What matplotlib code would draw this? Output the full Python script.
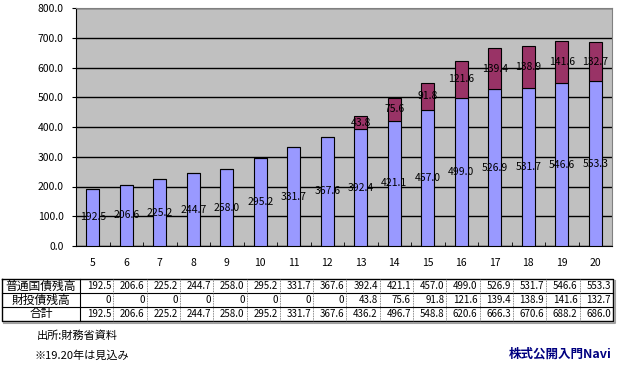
import matplotlib
matplotlib.use("Agg")
import matplotlib.pyplot as plt
from matplotlib.ticker import FormatStrFormatter, MultipleLocator
import numpy as np

plt.rcParams['font.family'] = ['Noto Sans CJK JP', 'DejaVu Sans']

# data (単位: 兆円)
years = ["5", "6", "7", "8", "9", "10", "11", "12", "13", "14", "15", "16", "17", "18", "19", "20"]
futsu = [192.5, 206.6, 225.2, 244.7, 258.0, 295.2, 331.7, 367.6, 392.4, 421.1, 457.0, 499.0, 526.9, 531.7, 546.6, 553.3]
zaito = [0, 0, 0, 0, 0, 0, 0, 0, 43.8, 75.6, 91.8, 121.6, 139.4, 138.9, 141.6, 132.7]
total = [192.5, 206.6, 225.2, 244.7, 258.0, 295.2, 331.7, 367.6, 436.2, 496.7, 548.8, 620.6, 666.3, 670.6, 688.2, 686.0]
row_names = ["普通国債残高", "財投債残高", "合計"]

fig = plt.figure(figsize=(6.18, 3.65), dpi=100)
W, H = 618, 365
ax = fig.add_axes([76 / W, 1 - 246 / H, 536 / W, 238 / H])
ax.set_facecolor("#c0c0c0")

x = np.arange(len(years))
b1 = ax.bar(x, futsu, width=0.39, color="#9999ff", edgecolor="black", linewidth=0.8, zorder=3)
b2 = ax.bar(x, zaito, width=0.39, bottom=futsu, color="#993366", edgecolor="black", linewidth=0.8, zorder=3)

# ラベル
for i in range(len(years)):
    ax.text(x[i], futsu[i] / 2, "%.1f" % futsu[i], ha="center", va="center", fontsize=7.5, zorder=4)
    if zaito[i] > 0:
        ax.text(x[i], futsu[i] + zaito[i] / 2, "%.1f" % zaito[i], ha="center", va="center", fontsize=7.5, zorder=4)

ax.set_xlim(-0.5, len(years) - 0.5)
ax.set_ylim(0, 800)
ax.yaxis.set_major_locator(MultipleLocator(100))
ax.yaxis.set_major_formatter(FormatStrFormatter("%.1f"))
ax.grid(axis="y", color="black", linewidth=1.0, zorder=1)
ax.set_axisbelow(True)
ax.set_xticks(x)
ax.set_xticklabels(years)
ax.set_xticks(np.arange(-0.5, len(years), 1), minor=True)
ax.tick_params(axis="x", which="major", length=0, pad=9, labelsize=7.5)
ax.tick_params(axis="x", which="minor", length=3, direction="in", color="black")
ax.tick_params(axis="y", length=3, direction="out", pad=6, labelsize=7.5)
for s in ["top", "right"]:
    ax.spines[s].set_color("#808080")
ax.spines["left"].set_color("black")
ax.spines["bottom"].set_color("black")

# 表
tx = fig.add_axes([0, 0, 1, 1])
tx.set_xlim(0, W)
tx.set_ylim(H, 0)
tx.axis("off")
top, rh = 279, 14
left, c0, cw = 2, 80, 33.3
right = c0 + cw * len(years)
tx.plot([left, right, right, left, left], [top, top, top + 3 * rh, top + 3 * rh, top], color="black", lw=1)
tx.plot([left + 2, right + 2, right + 2], [top + 3 * rh + 2, top + 3 * rh + 2, top + 2], color="#a0a0a0", lw=1.5)
for r in range(1, 3):
    tx.plot([left, right], [top + r * rh, top + r * rh], color="black", lw=0.8)
tx.plot([c0, c0], [top, top + 3 * rh], color="black", lw=0.8)
for c in range(1, len(years)):
    xc = c0 + c * cw
    tx.plot([xc, xc], [top, top + 3 * rh], color="#606060", lw=0.6, ls=(0, (1, 1)))

rows = [futsu, zaito, total]
for r, vals in enumerate(rows):
    yc = top + r * rh + rh / 2
    tx.text((left + c0) / 2, yc, row_names[r], ha="center", va="center", fontsize=8.5)
    for c, v in enumerate(vals):
        s = "%.1f" % v if v != 0 else "0"
        tx.text(c0 + (c + 1) * cw - 2, yc, s, ha="right", va="center", fontsize=7)

tx.text(37, 336, "出所:財務省資料", ha="left", va="center", fontsize=8)
tx.text(35, 356, "※19.20年は見込み", ha="left", va="center", fontsize=8)
tx.text(612, 354, "株式公開入門Navi", ha="right", va="center", fontsize=9, color="#000080", fontweight="bold")

fig.savefig("out.png", dpi=100)
